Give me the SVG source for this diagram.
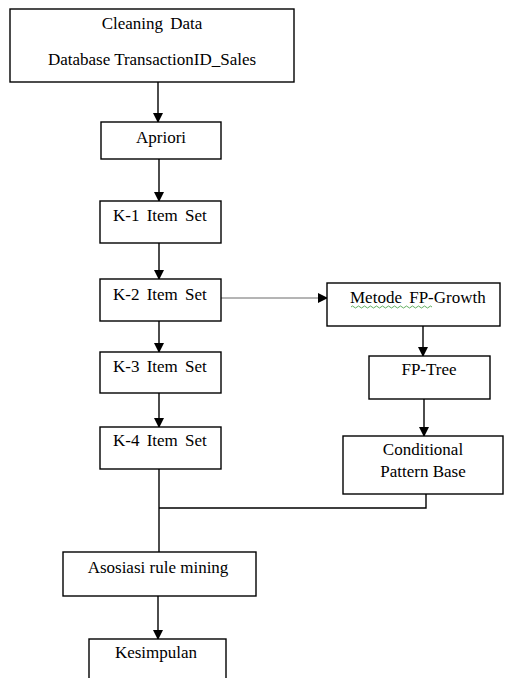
<svg xmlns="http://www.w3.org/2000/svg" width="513" height="678" viewBox="0 0 513 678">
<defs>
<marker id="ah" markerWidth="10" markerHeight="10" refX="9" refY="5" orient="auto" markerUnits="userSpaceOnUse">
<path d="M0,0 L10,5 L0,10 Z" fill="#000"/>
</marker>
</defs>
<style>
.box{fill:#fff;stroke:#000;stroke-width:1.4}
.c{text-anchor:middle}
.ln{fill:none;stroke:#000;stroke-width:1.4}
.thin{fill:none;stroke:#444;stroke-width:0.8}
</style>
<rect width="513" height="678" fill="#fff"/>
<g id="connectors">
<line class="ln" x1="158" y1="82" x2="158" y2="122" marker-end="url(#ah)"/>
<line class="ln" x1="159" y1="159" x2="159" y2="201" marker-end="url(#ah)"/>
<line class="ln" x1="159" y1="243" x2="159" y2="279" marker-end="url(#ah)"/>
<line class="ln" x1="159" y1="321" x2="159" y2="352" marker-end="url(#ah)"/>
<line class="ln" x1="159" y1="393" x2="159" y2="427" marker-end="url(#ah)"/>
<line class="thin" x1="221" y1="298" x2="327" y2="298" marker-end="url(#ah)"/>
<line class="ln" x1="423" y1="326" x2="423" y2="356" marker-end="url(#ah)"/>
<line class="ln" x1="424" y1="399" x2="424" y2="436" marker-end="url(#ah)"/>
<polyline class="ln" points="426,494 426,508 159,508"/>
<line class="ln" x1="159" y1="469" x2="159" y2="552"/>
<line class="ln" x1="158" y1="596" x2="158" y2="639" marker-end="url(#ah)"/>
</g>
<g font-family="Liberation Serif, Times New Roman, serif" font-size="17" fill="#000">
<g id="cleaning">
<rect class="box" x="10" y="9" width="284" height="73"/>
<text class="c" x="152" y="29" word-spacing="3">Cleaning Data</text>
<text class="c" x="152" y="65">Database TransactionID_Sales</text>
</g>
<g id="apriori">
<rect class="box" x="101" y="122" width="120" height="37"/>
<text class="c" x="161" y="143">Apriori</text>
</g>
<g id="k1">
<rect class="box" x="100" y="201" width="121" height="42"/>
<text x="113" y="221" word-spacing="3">K-1 Item Set</text>
</g>
<g id="k2">
<rect class="box" x="100" y="279" width="121" height="42"/>
<text x="113" y="300" word-spacing="3">K-2 Item Set</text>
</g>
<g id="k3">
<rect class="box" x="100" y="352" width="121" height="41"/>
<text x="113" y="372" word-spacing="3">K-3 Item Set</text>
</g>
<g id="k4">
<rect class="box" x="100" y="427" width="121" height="42"/>
<text x="113" y="446" word-spacing="3">K-4 Item Set</text>
</g>
<g id="fpgrowth">
<rect class="box" x="327" y="283" width="173" height="43"/>
<text x="350" y="303" word-spacing="3">Metode FP-Growth</text>
<path d="M351,307 q1.5,-2 3,0 t3,0 t3,0 t3,0 t3,0 t3,0 t3,0 t3,0 t3,0 t3,0 t3,0 t3,0 t3,0 t3,0 t3,0 t3,0 t3,0 t3,0 t3,0 t3,0 t3,0 t3,0 t3,0 t3,0 t3,0 t3,0 t3,0" fill="none" stroke="#3a9a3a" stroke-width="0.8"/>
</g>
<g id="fptree">
<rect class="box" x="369" y="356" width="121" height="43"/>
<text class="c" x="429" y="375">FP-Tree</text>
</g>
<g id="conditional">
<rect class="box" x="343" y="436" width="160" height="58"/>
<text class="c" x="423" y="455">Conditional</text>
<text class="c" x="423" y="477">Pattern Base</text>
</g>
<g id="asosiasi">
<rect class="box" x="63" y="552" width="193" height="44"/>
<text class="c" x="158" y="573">Asosiasi rule mining</text>
</g>
<g id="kesimpulan">
<rect class="box" x="89" y="639" width="137" height="45"/>
<text class="c" x="156" y="658">Kesimpulan</text>
</g>
</g>
</svg>
